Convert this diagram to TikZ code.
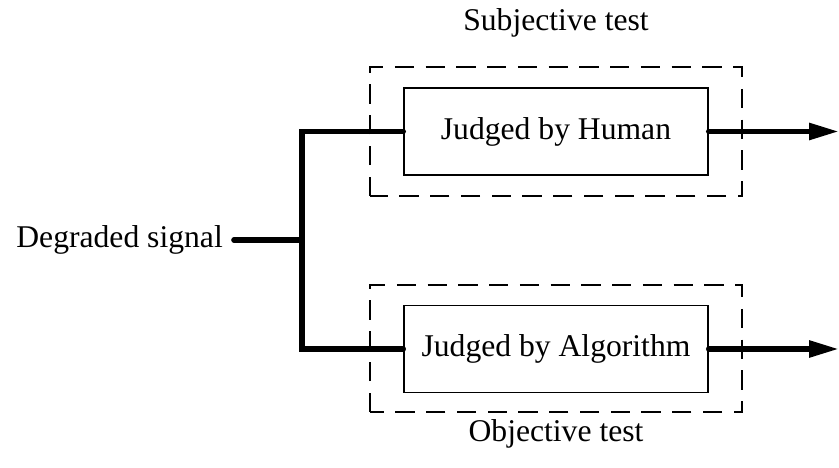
\documentclass[tikz,border=0pt]{standalone}
\usepackage{fontspec}
\setmainfont{Liberation Serif}
\usetikzlibrary{arrows.meta}

\tikzset{
  judgebox/.style={draw, line width=0.9pt, minimum width=6.08cm, minimum height=1.74cm, inner sep=0pt},
  testframe/.style={draw, line width=1.2pt, dash pattern=on 11pt off 6.5pt},
  sigline/.style={line width=3.2pt, line cap=round},
  sigarrow/.style={sigline, -{Triangle[length=0.6cm,width=0.32cm]}}
}

\begin{document}
\begin{tikzpicture}[font=\fontsize{18}{22}\selectfont]
      \useasboundingbox (0,0) rectangle (16.78,9.36);

      % test frames
      \draw [testframe] (7.4,5.44) rectangle (14.84,8.02);
      \draw [testframe] (7.4,1.12) rectangle (14.84,3.66);
      \node (subj) at (11.12,8.9) {Subjective test};
      \node (obj) at (11.12,0.68) {Objective test};

      \node [judgebox] (human) at (11.12,6.73) {Judged by Human};
      \node [judgebox] (algo) at (11.12,2.38) {Judged by Algorithm};

      \node [left] (input) at (4.58,4.56) {Degraded signal};
      \coordinate (split) at (6.04,4.56);
      \coordinate (outh) at (16.78,6.73);
      \coordinate (outa) at (16.78,2.38);

      \draw [sigline] (input.east) ++(0.1,0) -- (split);
      \draw [sigline] (human.west) -| (split) |- (algo.west);
      \draw [sigarrow] (human.east) -- (outh);
      \draw [sigarrow] (algo.east) -- (outa);
\end{tikzpicture}
\end{document}
